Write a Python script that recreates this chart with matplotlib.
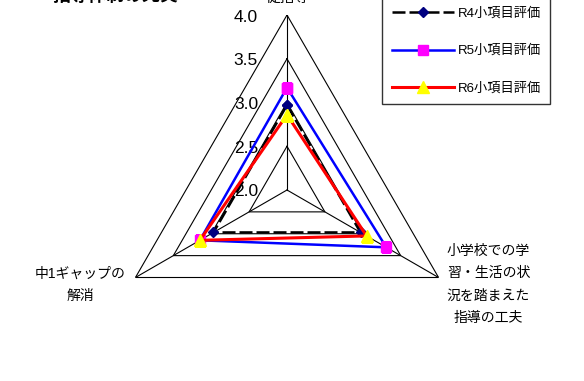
import numpy as np
import matplotlib
matplotlib.use("Agg")
import matplotlib.pyplot as plt
from matplotlib.lines import Line2D

plt.rcParams['font.family'] = ['Liberation Sans', 'Noto Sans CJK JP', 'DejaVu Sans']

# カテゴリ（上 -> 右下 -> 左下, 時計回り）
categories = ["促指導", "小学校での学\n習・生活の状\n況を踏まえた\n指導の工夫", "中1ギャップの\n解消"]
levels = [2.0, 2.5, 3.0, 3.5, 4.0]
r4 = [2.97, 2.97, 2.97]
r5 = [3.17, 3.31, 3.15]
r6 = [2.86, 3.05, 3.15]
series_names = ["R4小項目評価", "R5小項目評価", "R6小項目評価"]
title = "指導体制の充実"

W, H = 584, 381
fig = plt.figure(figsize=(W / 100, H / 100), dpi=100)
cx, cy, rad = 287, 190, 175
ax = fig.add_axes([(cx - rad) / W, (H - cy - rad) / H, 2 * rad / W, 2 * rad / H], projection='polar')
ax.set_theta_zero_location('N')
ax.set_theta_direction(-1)
ax.set_ylim(levels[0], levels[-1])
ax.grid(False)
ax.set_xticks([])
ax.set_yticks([])
ax.spines['polar'].set_visible(False)
ax.patch.set_visible(False)

theta = np.deg2rad([0, 120, 240])
closed = np.append(theta, theta[0])

# 三角形のグリッド
for lv in levels[1:]:
    ax.plot(closed, [lv] * 4, color='black', lw=0.8, zorder=1)
for t in theta:
    ax.plot([t, t], [levels[0], levels[-1]], color='black', lw=0.8, zorder=1)

for lv in levels:
    ax.annotate(f"{lv:.1f}", xy=(0, lv), xytext=(-29, -2), textcoords='offset pixels',
                ha='right', va='center', fontsize=12.5, annotation_clip=False)

def closed_vals(v):
    return list(v) + [v[0]]

ax.plot(closed, closed_vals(r4), color='black', lw=1.8, dashes=(5.2, 1.6),
        marker='D', ms=5.5, mfc='#000080', mec='#000080', zorder=3)
ax.plot(closed, closed_vals(r5), color='blue', lw=1.8,
        marker='s', ms=7, mfc='magenta', mec='magenta', zorder=4)
ax.plot(closed, closed_vals(r6), color='red', lw=2.2,
        marker='^', ms=8, mfc='yellow', mec='yellow', zorder=5)

# 軸ラベル
ax.annotate(categories[0], xy=(0, 4.0), xytext=(1, 17), textcoords='offset pixels',
            ha='center', va='center', fontsize=10.5, annotation_clip=False)
ax.annotate(categories[1], xy=(theta[1], 4.0), xytext=(50, -7), textcoords='offset pixels',
            ha='center', va='center', fontsize=10, linespacing=1.75, annotation_clip=False)
ax.annotate(categories[2], xy=(theta[2], 4.0), xytext=(-55, -7), textcoords='offset pixels',
            ha='center', va='center', fontsize=10, linespacing=1.75, annotation_clip=False)

fig.text(116 / W, 1 + 4 / H, title, ha='center', va='center', fontsize=13, fontweight='bold')

handles = [
    Line2D([], [], color='black', lw=1.8, dashes=(5.2, 1.6), marker='D', ms=5.5,
           mfc='#000080', mec='#000080'),
    Line2D([], [], color='blue', lw=1.8, marker='s', ms=7, mfc='magenta', mec='magenta'),
    Line2D([], [], color='red', lw=2.2, marker='^', ms=8, mfc='yellow', mec='yellow'),
]
leg = fig.legend(handles, series_names, loc='lower right', bbox_to_anchor=(550 / W, (H - 104) / H),
                 fontsize=9.5, frameon=True, fancybox=False, edgecolor='black', numpoints=1,
                 handlelength=4.7, handletextpad=0.3, labelspacing=1.9, borderpad=0.7,
                 borderaxespad=0)
leg.get_frame().set_linewidth(1.0)

fig.savefig("out.png", dpi=100)
